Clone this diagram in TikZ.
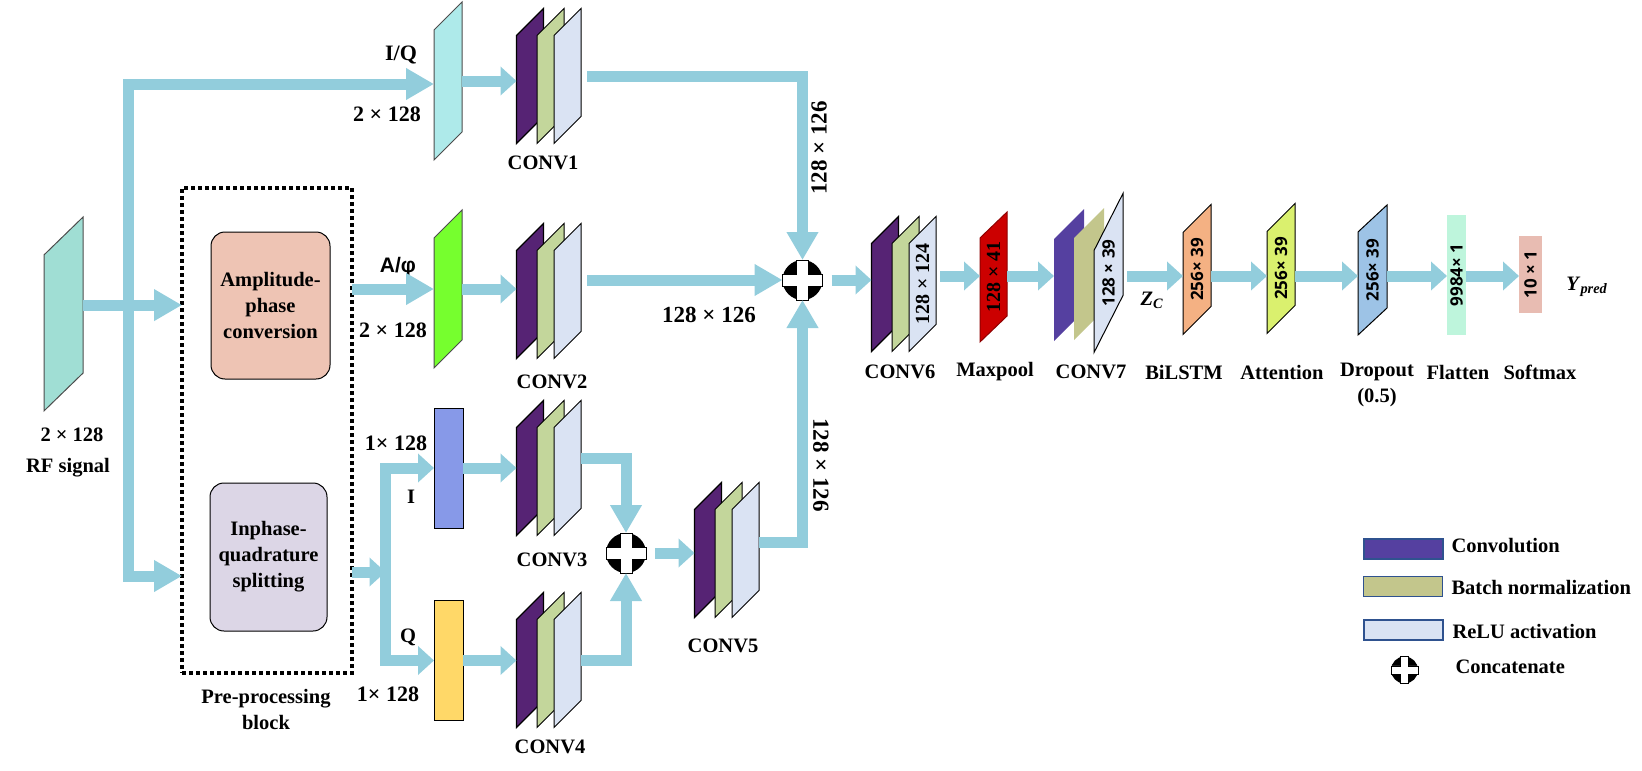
\documentclass[tikz,border=0pt]{standalone}
\usepackage{fontspec}
\setmainfont{Liberation Serif}
\newfontfamily\dimsans{Open Sans}
\newfontfamily\apsans{Liberation Sans}
\usetikzlibrary{arrows.meta,positioning}

\definecolor{flowblue}{RGB}{146,205,220}
\definecolor{convpurple}{RGB}{86,35,116}
\definecolor{bngreen}{RGB}{195,214,155}
\definecolor{relublue}{RGB}{218,227,243}
\definecolor{conv7purple}{RGB}{85,64,160}
\definecolor{conv7green}{RGB}{195,198,140}
\definecolor{rfteal}{RGB}{160,222,212}
\definecolor{iqcyan}{RGB}{174,234,234}
\definecolor{apgreen}{RGB}{118,255,46}
\definecolor{ibarblue}{RGB}{135,153,232}
\definecolor{qbaryellow}{RGB}{255,216,104}
\definecolor{ampsalmon}{RGB}{238,196,180}
\definecolor{iqslav}{RGB}{220,214,230}
\definecolor{poolred}{RGB}{204,0,0}
\definecolor{lstmorange}{RGB}{244,177,131}
\definecolor{attyellow}{RGB}{218,240,110}
\definecolor{dropblue}{RGB}{157,195,230}
\definecolor{flatgreen}{RGB}{190,245,220}
\definecolor{softpink}{RGB}{232,188,178}
\definecolor{legendedge}{RGB}{47,82,143}

\tikzset{
  flow/.style={draw=flowblue, line width=11pt, -{Triangle[length=16pt,width=28pt]}},
  bighead/.style={-{Triangle[length=28pt,width=30pt]}},
  slab/.style={draw=black, line width=1pt, inner sep=0pt, outer sep=0pt},
  layer/.style={slab, minimum width=27, minimum height=108, yslant=1},
  box/.style={draw=black, line width=1pt, rounded corners=14pt, align=center, outer sep=0pt},
  dimlab/.style={font=\fontsize{22}{26}\selectfont\bfseries},
  inserif/.style={rotate=90, font=\fontsize{20}{22}\selectfont\bfseries},
  insans/.style={rotate=90, font=\dimsans\fontsize{17}{20}\selectfont\bfseries},
  legbox/.style={draw=legendedge, line width=1.5pt, minimum width=79, minimum height=20, inner sep=0pt},
  concat/.style={circle, fill=black, minimum size=#1, inner sep=0pt, outer sep=0pt},
  concat/.default=40
}
% white plus drawn on a concat node
\newcommand{\plussign}[2]{%
  \draw[fill=white, line width=0.7pt, shift={(#1.center)}, scale=#2/40]
    (-6,-20) -- (-6,-6) -- (-20,-6) -- (-20,6) -- (-6,6) -- (-6,20) -- (6,20)
    -- (6,6) -- (20,6) -- (20,-6) -- (6,-6) -- (6,-20) -- cycle;}

\begin{document}
\begin{tikzpicture}[x=1pt, y=-1pt, font=\fontsize{20.5}{26}\selectfont\bfseries]
\useasboundingbox (0,0) rectangle (1642,771);

% input signal and pre-processing
\node[slab, draw=black!70, fill=rfteal, minimum width=39, minimum height=156, yslant=0.97] (rf) at (63.5,314) {};
\node at (72,435) {2 × 128};
\node at (68,468) {RF signal};
\node[draw, line width=3.2pt, dash pattern=on 4pt off 3pt, minimum width=170, minimum height=485, outer sep=0pt] (pre) at (267,430.5) {};
\node[box, fill=ampsalmon, minimum width=119, minimum height=147] (amp) at (270.5,305.5) {Amplitude-\\phase\\conversion};
\node[box, fill=iqslav, minimum width=117, minimum height=148] (iqs) at (268.5,557) {Inphase-\\quadrature\\splitting};
\node[align=center] at (266,709.5) {Pre-processing\\block};

% branch inputs
\node[slab, draw=black!70, fill=iqcyan, minimum width=28, minimum height=130, yslant=1] (iq) at (448,81) {};
\node[slab, draw=black!70, fill=apgreen, minimum width=28, minimum height=130, yslant=1] (ap) at (448,289) {};
\node[slab, fill=ibarblue, minimum width=29, minimum height=120] (ibar) at (448.5,468) {};
\node[slab, fill=qbaryellow, minimum width=29, minimum height=120] (qbar) at (448.5,660.5) {};
\node[dimlab] at (401,55) {I/Q};
\node[dimlab] at (387,114) {2 × 128};
\node[font=\apsans\fontsize{21}{24}\selectfont\bfseries] at (398,267) {A/φ};
\node[dimlab] at (393,330) {2 × 128};
\node[dimlab] at (396,443) {1× 128};
\node at (411,497) {I};
\node at (408,637) {Q};
\node[dimlab] at (388,694) {1× 128};

% conv stacks
\foreach \n/\x/\y in {c1/530/76, c2/530/291, c3/530/468, c4/530/660, c5/708/550, c6/885/284}{
  \node[layer, fill=convpurple, line width=1.3pt] (\n-a) at (\x,\y) {};
  \node[layer, fill=bngreen] (\n-b) at (\x+20.5,\y) {};
  \node[layer, fill=relublue] (\n-c) at (\x+37.5,\y) {};
}
\node[layer, draw=none, fill=conv7purple, minimum width=30, minimum height=102] (c7-a) at (1069,275) {};
\node[layer, draw=none, fill=conv7green, minimum width=30, minimum height=102] (c7-b) at (1089,274) {};
\node[layer, fill=relublue, minimum width=29, minimum height=102, yslant=0.97] (c7-c) at (1108.5,273) {};
\node at (543,163) {CONV1};
\node at (552,382) {CONV2};
\node at (552,560) {CONV3};
\node at (550,747) {CONV4};
\node at (723,646) {CONV5};
\node at (900,372) {CONV6};
\node[inserif] at (c6-c) {128 × 124};
\node[insans] at (c7-c) {128 × 39};

% concatenations
\node[concat] (cat1) at (802.5,280) {};
\node[concat] (cat2) at (626,553) {};
\plussign{cat1}{40}
\plussign{cat2}{40}

% head blocks
\node[slab, draw=poolred!70!black, fill=poolred, minimum width=27, minimum height=104, yslant=0.96] (mp) at (993.5,277) {};
\node[slab, fill=lstmorange, minimum width=28, minimum height=102, yslant=1] (lstm) at (1197,269.5) {};
\node[slab, fill=attyellow, minimum width=28, minimum height=102, yslant=1] (att) at (1281,268.5) {};
\node[slab, fill=dropblue, minimum width=29, minimum height=103, yslant=0.93] (drop) at (1372.5,270) {};
\node[fill=flatgreen, minimum width=19, minimum height=120, inner sep=0pt, outer sep=0pt] (flat) at (1456.5,275) {};
\node[fill=softpink, minimum width=23, minimum height=77, inner sep=0pt, outer sep=0pt] (soft) at (1530.5,274.5) {};
\node[inserif] at (mp) {128 × 41};
\node[insans] at (lstm) {256× 39};
\node[insans] at (att) {256× 39};
\node[insans] at (drop) {256× 39};
\node[insans] at (flat) {9984× 1};
\node[insans] at (soft) {10 × 1};
\node at (995,372) {Maxpool};
\node at (1091,372) {CONV7};
\node at (1184,372) {BiLSTM};
\node at (1282,372) {Attention};
\node[align=center] at (1377,385) {Dropout\\(0.5)};
\node at (1458,372) {Flatten};
\node at (1540,372) {Softmax};
\node at (1152,300) {\textit{Z}\textsubscript{\textit{C}}};
\node at (1587,287) {\textit{Y}\textsubscript{\textit{pred}}};

% connectors
\coordinate (trtop) at (128.5,84);
\coordinate (trbot) at (128.5,576);
\coordinate (split) at (385.5,572);
\coordinate (row) at (0,276);
\draw[flow,bighead] (trbot) -- (trtop) -- (trtop -| iq.west);
\draw[flow,bighead] (trtop) -- (trbot) -- (trbot -| pre.west);
\draw[flow,bighead] ([yshift=-10pt]rf.east) -- ([yshift=-10pt]rf.east -| pre.west);
\draw[flow,bighead] (ap.center -| pre.east) -- (ap.center -| ap.west);
\draw[flow] (split -| pre.east) -- (split);
\draw[flow] (split) -- (split |- ibar) -- (ibar.west);
\draw[flow] (split) -- (split |- qbar) -- (qbar.west);
\draw[flow] (iq.center -| iq.east) -- (iq.center -| c1-a.west);
\draw[flow] (ap.center -| ap.east) -- (ap.center -| c2-a.west);
\draw[flow] (ibar.east) -- (ibar -| c3-a.west);
\draw[flow] (qbar.east) -- (qbar -| c4-a.west);
\draw[flow,bighead,shorten <=6pt] (c1-c.center -| c1-c.east) -- (c1-c.center -| cat1) -- (cat1.north);
\draw[flow,bighead,shorten <=6pt] (cat1 -| c2-c.east) -- (cat1.west);
\draw[flow,bighead] ([yshift=8pt]c5-c.center -| c5-c.east) -- ([yshift=8pt]c5-c.center -| cat1) -- (cat1.south);
\draw[flow,bighead] ([yshift=10pt]c3-c.center -| c3-c.east) -- ([yshift=10pt]c3-c.center -| cat2) -- (cat2.north);
\draw[flow,bighead] (c4-c.center -| c4-c.east) -- (c4-c.center -| cat2) -- (cat2.south);
\draw[flow,shorten <=9pt] (cat2.east) -- (cat2 -| c5-a.west);
\draw[flow,shorten <=9pt] (cat1.east) -- (cat1 -| c6-a.west);
\draw[flow,shorten <=4pt] (row -| c6-c.east) -- (row -| mp.west);
\draw[flow] (row -| mp.east) -- (row -| c7-a.west);
\draw[flow,shorten <=4pt] (row -| c7-c.east) -- (row -| lstm.west);
\draw[flow] (row -| lstm.east) -- (row -| att.west);
\draw[flow] (row -| att.east) -- (row -| drop.west);
\draw[flow] (row -| drop.east) -- (row -| flat.west);
\draw[flow] (row -| flat.east) -- (row -| soft.west);
\node[dimlab, font=\fontsize{23}{26}\selectfont\bfseries, rotate=90] at (819,148) {128 × 126};
\node[dimlab, font=\fontsize{23}{26}\selectfont\bfseries] at (709,315) {128 × 126};
\node[dimlab, font=\fontsize{23}{26}\selectfont\bfseries, rotate=-90] at (821,465) {128 × 126};

% legend
\node[legbox, fill=conv7purple] (lgconv) at (1403.5,549) {};
\node[legbox, fill=conv7green] (lgbn) at (1403,586.5) {};
\node[legbox, fill=relublue] (lgrelu) at (1403.5,630) {};
\node[concat=27] (lgcat) at (1404.5,670) {};
\plussign{lgcat}{27}
\node[anchor=west] at (1448,546) {Convolution};
\node[anchor=west] at (1448,587) {Batch normalization};
\node[anchor=west] at (1449,631) {ReLU activation};
\node[anchor=west] at (1452,667) {Concatenate};
\end{tikzpicture}
\end{document}
